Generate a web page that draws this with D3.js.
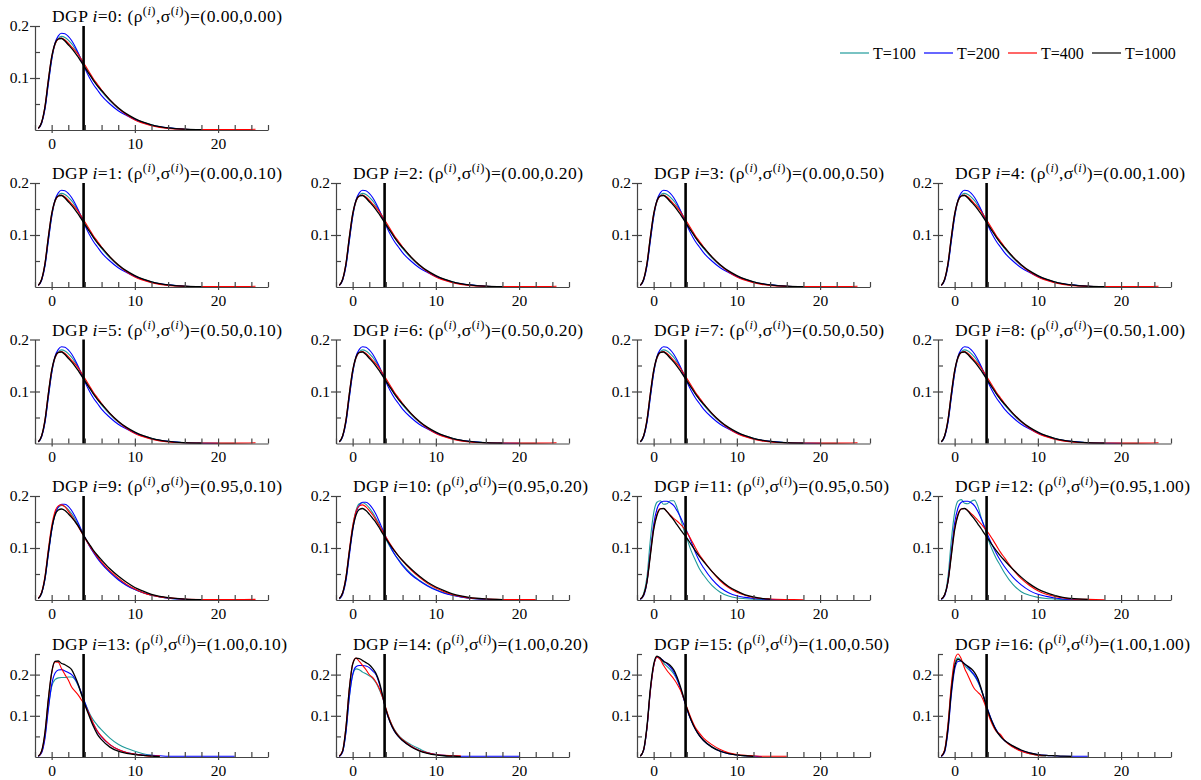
<!DOCTYPE html>
<html><head><meta charset="utf-8">
<script src="https://cdn.jsdelivr.net/npm/d3@7"></script>
<style>
body{margin:0;background:#fff}
svg{display:block}
</style>
</head><body><svg id="c" width="1201" height="780"></svg>
<script>
// ---------- data ----------
const X = [-1.6,-1.2,-0.8,-0.4,0,0.4,0.8,1.2,1.6,2,2.4,2.8,3.2,3.6,4,4.5,5,5.5,6,7,8,9,10,11,12,13,14,16,18,20,22,24.5];
const seriesNames = ["T=100","T=200","T=400","T=1000"];
const seriesColors = ["#1f9a9a","#0000ff","#ff0000","#000000"];
const critValue = 3.84;
const xTicksMajor = [0,10,20];
const rhoVals   = [0.00,0.00,0.00,0.00,0.00,0.50,0.50,0.50,0.50,0.95,0.95,0.95,0.95,1.00,1.00,1.00,1.00];
const sigmaVals = [0.00,0.10,0.20,0.50,1.00,0.10,0.20,0.50,1.00,0.10,0.20,0.50,1.00,0.10,0.20,0.50,1.00];

// DGP 0..8 (visually identical)
const base_T100  = [0.003,0.014,0.042,0.090,0.135,0.164,0.176,0.180,0.178,0.173,0.166,0.157,0.147,0.135,0.123,0.109,0.096,0.085,0.074,0.056,0.041,0.030,0.021,0.015,0.010,0.006,0.004,0.0015,0.0007,0.0004,0.0003];
const base_T200  = [0.003,0.013,0.040,0.088,0.135,0.167,0.181,0.186,0.185,0.180,0.172,0.161,0.148,0.133,0.118,0.102,0.088,0.077,0.066,0.050,0.037,0.028,0.020,0.014,0.009,0.006,0.004,0.0015,0.0006,0.0003];
const base_T400  = [0.003,0.015,0.046,0.096,0.140,0.165,0.175,0.177,0.173,0.167,0.160,0.153,0.145,0.135,0.125,0.112,0.099,0.088,0.077,0.058,0.042,0.029,0.019,0.013,0.008,0.005,0.003,0.0015,0.001,0.0008,0.0008,0.0015];
const base_T1000 = [0.003,0.015,0.045,0.095,0.140,0.166,0.175,0.176,0.171,0.164,0.157,0.149,0.140,0.130,0.120,0.108,0.096,0.085,0.076,0.058,0.043,0.031,0.022,0.015,0.010,0.0065,0.004,0.0015,0.0005];
// DGP 9
const d9_T100  = [0.003,0.013,0.040,0.088,0.134,0.164,0.178,0.182,0.180,0.174,0.166,0.156,0.145,0.132,0.120,0.106,0.093,0.082,0.071,0.054,0.040,0.029,0.020,0.014,0.009,0.006,0.0035,0.0015,0.0006,0.0003];
const d9_T200  = [0.003,0.013,0.040,0.087,0.133,0.165,0.179,0.184,0.184,0.180,0.172,0.161,0.148,0.134,0.120,0.105,0.092,0.080,0.070,0.053,0.039,0.028,0.020,0.014,0.009,0.006,0.0035,0.0015,0.0006];
const d9_T400  = [0.003,0.015,0.046,0.097,0.142,0.170,0.181,0.183,0.179,0.171,0.162,0.152,0.141,0.130,0.119,0.106,0.094,0.083,0.073,0.056,0.042,0.030,0.021,0.014,0.009,0.006,0.004,0.0018,0.001,0.0008,0.0008,0.0012];
const d9_T1000 = [0.003,0.014,0.043,0.092,0.136,0.163,0.173,0.175,0.172,0.166,0.159,0.151,0.142,0.131,0.120,0.108,0.096,0.086,0.077,0.060,0.046,0.034,0.024,0.017,0.011,0.007,0.0045,0.0018,0.0006];
// DGP 10
const d10_T100  = [0.002,0.012,0.040,0.090,0.140,0.172,0.185,0.187,0.184,0.177,0.168,0.157,0.145,0.131,0.117,0.102,0.089,0.078,0.068,0.051,0.038,0.028,0.020,0.014,0.009,0.006,0.0035,0.0015,0.0005];
const d10_T200  = [0.002,0.011,0.037,0.085,0.133,0.167,0.182,0.188,0.188,0.184,0.176,0.165,0.151,0.136,0.121,0.104,0.089,0.077,0.066,0.049,0.037,0.027,0.019,0.013,0.009,0.006,0.0035,0.0015,0.0006];
const d10_T400  = [0.003,0.014,0.045,0.096,0.142,0.170,0.181,0.183,0.179,0.172,0.164,0.154,0.143,0.132,0.121,0.108,0.096,0.085,0.075,0.058,0.044,0.032,0.023,0.016,0.010,0.007,0.004,0.002,0.001,0.0008,0.0008];
const d10_T1000 = [0.003,0.014,0.043,0.092,0.136,0.163,0.174,0.176,0.172,0.165,0.157,0.149,0.139,0.128,0.118,0.106,0.095,0.085,0.076,0.060,0.046,0.034,0.025,0.018,0.012,0.008,0.005,0.002,0.0007];
// DGP 11
const d11_T100  = [0.001,0.012,0.045,0.115,0.167,0.188,0.191,0.184,0.185,0.191,0.191,0.178,0.158,0.136,0.118,0.095,0.077,0.060,0.048,0.028,0.015,0.0075,0.004,0.0025,0.0015,0.001,0.0006,0.0003];
const d11_T200  = [0.001,0.008,0.035,0.090,0.145,0.175,0.187,0.190,0.190,0.187,0.182,0.172,0.160,0.146,0.132,0.113,0.092,0.075,0.062,0.040,0.024,0.014,0.008,0.005,0.003,0.002,0.001,0.0005];
const d11_T400  = [0.002,0.010,0.036,0.087,0.137,0.165,0.176,0.176,0.170,0.163,0.157,0.152,0.146,0.139,0.130,0.116,0.101,0.087,0.076,0.055,0.037,0.024,0.015,0.009,0.005,0.003,0.002,0.001,0.0005];
const d11_T1000 = [0.002,0.010,0.035,0.085,0.135,0.163,0.175,0.176,0.170,0.162,0.154,0.145,0.136,0.127,0.119,0.107,0.095,0.084,0.074,0.055,0.039,0.026,0.017,0.010,0.006,0.003,0.0015];
// DGP 12
const d12_T100  = [0.001,0.010,0.045,0.115,0.168,0.190,0.193,0.186,0.185,0.190,0.192,0.180,0.158,0.140,0.118,0.097,0.080,0.066,0.052,0.030,0.016,0.009,0.005,0.003,0.002,0.001,0.0007,0.0004];
const d12_T200  = [0.001,0.008,0.036,0.092,0.148,0.177,0.188,0.190,0.190,0.187,0.181,0.170,0.156,0.140,0.124,0.106,0.090,0.076,0.064,0.044,0.029,0.018,0.011,0.007,0.004,0.002,0.001,0.0005];
const d12_T400  = [0.002,0.010,0.036,0.087,0.137,0.165,0.175,0.176,0.172,0.166,0.160,0.153,0.146,0.138,0.130,0.118,0.105,0.092,0.081,0.059,0.041,0.028,0.018,0.011,0.007,0.004,0.002,0.0012,0.0006];
const d12_T1000 = [0.002,0.010,0.035,0.085,0.135,0.163,0.175,0.176,0.171,0.163,0.155,0.146,0.137,0.127,0.118,0.106,0.095,0.085,0.076,0.059,0.044,0.031,0.021,0.014,0.009,0.005,0.003,0.0012];
// DGP 13
const d13_T100  = [0.002,0.012,0.050,0.120,0.170,0.188,0.192,0.193,0.193,0.194,0.194,0.188,0.172,0.152,0.132,0.108,0.090,0.077,0.066,0.046,0.031,0.021,0.014,0.008,0.004];
const d13_T200  = [0.001,0.010,0.045,0.115,0.175,0.203,0.211,0.212,0.209,0.205,0.200,0.190,0.175,0.155,0.132,0.105,0.080,0.062,0.049,0.030,0.018,0.011,0.007,0.005,0.004,0.003,0.002,0.002,0.002,0.002,0.002];
const d13_T400  = [0.002,0.014,0.058,0.138,0.203,0.231,0.230,0.214,0.200,0.187,0.170,0.160,0.150,0.138,0.125,0.105,0.082,0.063,0.050,0.030,0.018,0.011,0.007,0.004,0.002,0.003];
const d13_T1000 = [0.002,0.015,0.060,0.140,0.205,0.232,0.233,0.227,0.224,0.219,0.212,0.196,0.176,0.151,0.127,0.100,0.075,0.055,0.042,0.024,0.014,0.009,0.006,0.004,0.002,0.001];
// DGP 14
const d14_T100  = [0.002,0.013,0.062,0.145,0.198,0.214,0.212,0.206,0.202,0.197,0.191,0.180,0.164,0.144,0.116,0.088,0.067,0.053,0.043,0.030,0.020,0.011,0.006,0.003,0.002];
const d14_T200  = [0.001,0.012,0.060,0.145,0.200,0.219,0.222,0.222,0.221,0.217,0.209,0.200,0.178,0.147,0.113,0.084,0.063,0.050,0.040,0.026,0.016,0.010,0.006,0.004,0.003,0.002,0.002,0.002,0.002,0.002];
const d14_T400  = [0.002,0.016,0.074,0.166,0.226,0.240,0.232,0.222,0.212,0.200,0.193,0.182,0.167,0.145,0.118,0.088,0.066,0.052,0.042,0.027,0.016,0.010,0.006,0.004,0.003,0.003];
const d14_T1000 = [0.002,0.015,0.072,0.165,0.225,0.240,0.239,0.234,0.229,0.224,0.215,0.203,0.182,0.150,0.115,0.085,0.064,0.050,0.040,0.025,0.015,0.009,0.005,0.003,0.002,0.001];
// DGP 15
const d15_T100  = [0.002,0.017,0.072,0.162,0.222,0.243,0.238,0.228,0.220,0.212,0.202,0.188,0.168,0.143,0.117,0.090,0.069,0.053,0.041,0.025,0.015,0.009,0.005,0.003];
const d15_T200  = [0.002,0.016,0.070,0.158,0.220,0.242,0.240,0.233,0.226,0.218,0.207,0.190,0.168,0.142,0.116,0.089,0.068,0.052,0.040,0.024,0.014,0.008,0.005,0.003,0.002,0.001];
const d15_T400  = [0.002,0.018,0.072,0.160,0.220,0.242,0.236,0.222,0.210,0.200,0.190,0.178,0.163,0.143,0.120,0.094,0.072,0.058,0.046,0.030,0.018,0.010,0.006,0.004,0.003,0.002,0.002,0.002];
const d15_T1000 = [0.002,0.018,0.075,0.165,0.225,0.245,0.240,0.232,0.228,0.222,0.212,0.195,0.172,0.145,0.118,0.090,0.068,0.052,0.040,0.024,0.014,0.008,0.005,0.003,0.0015];
// DGP 16
const d16_T100  = [0.002,0.016,0.075,0.168,0.228,0.240,0.233,0.222,0.214,0.206,0.196,0.182,0.162,0.138,0.112,0.086,0.065,0.050,0.040,0.025,0.015,0.008,0.004,0.002];
const d16_T200  = [0.001,0.012,0.062,0.150,0.212,0.232,0.233,0.226,0.218,0.208,0.198,0.184,0.164,0.140,0.114,0.087,0.066,0.051,0.040,0.026,0.016,0.010,0.006,0.004,0.003,0.002,0.002,0.002];
const d16_T400  = [0.002,0.018,0.080,0.175,0.235,0.250,0.238,0.215,0.198,0.180,0.165,0.157,0.148,0.130,0.106,0.080,0.062,0.055,0.040,0.024,0.014,0.008,0.004,0.003];
const d16_T1000 = [0.002,0.015,0.070,0.160,0.220,0.237,0.233,0.226,0.220,0.214,0.205,0.190,0.165,0.138,0.112,0.085,0.064,0.050,0.040,0.027,0.017,0.010,0.006,0.004,0.003,0.002,0.0015];

const base = [base_T100, base_T200, base_T400, base_T1000];
const panelSeries = [
  base, base, base, base, base, base, base, base, base,
  [d9_T100, d9_T200, d9_T400, d9_T1000],
  [d10_T100, d10_T200, d10_T400, d10_T1000],
  [d11_T100, d11_T200, d11_T400, d11_T1000],
  [d12_T100, d12_T200, d12_T400, d12_T1000],
  [d13_T100, d13_T200, d13_T400, d13_T1000],
  [d14_T100, d14_T200, d14_T400, d14_T1000],
  [d15_T100, d15_T200, d15_T400, d15_T1000],
  [d16_T100, d16_T200, d16_T400, d16_T1000]
];

// ---------- layout ----------
const FONT = "'Liberation Serif','Times New Roman',Times,serif";
const colLeft = [35, 336, 637, 938];
const rowBottom = [130, 287, 443.5, 600, 757];
const plotW = 233;
const svg = d3.select("#c");
const axisColor = "#444";

function panelPos(i){
  if(i===0) return {r:0,c:0};
  return {r: 1 + Math.floor((i-1)/4), c: (i-1)%4};
}

for(let i=0;i<17;i++){
  const {r,c} = panelPos(i);
  const left = colLeft[c], bottom = rowBottom[r];
  const ymax = r===4 ? 0.25 : 0.2;
  const plotH = r===4 ? 103 : 104;
  const x = d3.scaleLinear().domain([-2,26]).range([left, left+plotW]);
  const y = d3.scaleLinear().domain([0,ymax]).range([bottom, bottom-plotH]);
  const g = svg.append("g");

  const line = d3.line().x((d,k)=>x(X[k])).y(d=>y(d)).curve(d3.curveMonotoneX);
  panelSeries[i].forEach((s,k)=>{
    g.append("path").attr("d", line(s)).attr("fill","none")
      .attr("stroke", seriesColors[k]).attr("stroke-width", k===3?1.3:1.1);
  });

  g.append("line").attr("x1",x(critValue)).attr("x2",x(critValue))
    .attr("y1",y(0)).attr("y2",y(ymax)).attr("stroke","#000").attr("stroke-width",2.6);

  const minorX = d3.range(-2,27,2);
  const gx = g.append("g").attr("transform",`translate(0,${bottom})`);
  gx.call(d3.axisBottom(x).tickValues(minorX).tickSizeInner(-5).tickSizeOuter(0).tickFormat(""));
  const gx2 = g.append("g").attr("transform",`translate(0,${bottom})`);
  gx2.call(d3.axisBottom(x).tickValues(xTicksMajor).tickSizeInner(3).tickSizeOuter(0).tickPadding(4.5).tickFormat(d3.format("d")));
  gx2.select(".domain").remove();
  const minorY = r===4 ? [0.05,0.1,0.15,0.2,0.25] : [0.05,0.1,0.15,0.2];
  const gy = g.append("g").attr("transform",`translate(${left},0)`);
  gy.call(d3.axisLeft(y).tickValues(minorY).tickSizeInner(-5).tickSizeOuter(0).tickFormat(""));
  const gy2 = g.append("g").attr("transform",`translate(${left},0)`);
  gy2.call(d3.axisLeft(y).tickValues([0.1,0.2]).tickSizeInner(5).tickSizeOuter(0).tickPadding(1).tickFormat(d3.format(".1f")));
  gy2.select(".domain").remove();
  [gx,gx2,gy,gy2].forEach(a=>{
    a.attr("font-family",null).attr("font-size",null);
    a.selectAll("path,line").attr("stroke",axisColor).attr("stroke-width",1.2);
    a.selectAll("text").style("font-family",FONT).style("font-size","15.5px").attr("fill","#000");
  });

  const t = g.append("text").attr("x", left+17).attr("y", bottom-plotH-4)
    .style("font-family",FONT).style("font-size","17.5px").attr("fill","#000")
    .attr("textLength", i<10 ? 230 : 235).attr("lengthAdjust","spacing");
  t.append("tspan").text("DGP ");
  t.append("tspan").style("font-style","italic").text("i");
  t.append("tspan").text("="+i+": (ρ");
  t.append("tspan").style("font-size","12.5px").attr("dy",-7).text("(");
  t.append("tspan").style("font-size","12.5px").style("font-style","italic").text("i");
  t.append("tspan").style("font-size","12.5px").text(")");
  t.append("tspan").attr("dy",7).text(",σ");
  t.append("tspan").style("font-size","12.5px").attr("dy",-7).text("(");
  t.append("tspan").style("font-size","12.5px").style("font-style","italic").text("i");
  t.append("tspan").style("font-size","12.5px").text(")");
  t.append("tspan").attr("dy",7).text(")=("+rhoVals[i].toFixed(2)+","+sigmaVals[i].toFixed(2)+")");
}

// legend
const legX = [840, 924, 1008, 1092];
const legY = 53;
seriesNames.forEach((n,k)=>{
  svg.append("line").attr("x1",legX[k]).attr("x2",legX[k]+29).attr("y1",legY).attr("y2",legY)
    .attr("stroke",seriesColors[k]).attr("stroke-width",1.2);
  svg.append("text").attr("x",legX[k]+33).attr("y",legY).attr("dy","0.35em")
    .style("font-family",FONT).style("font-size","16px").attr("fill","#000").text(n);
});
</script></body></html>
